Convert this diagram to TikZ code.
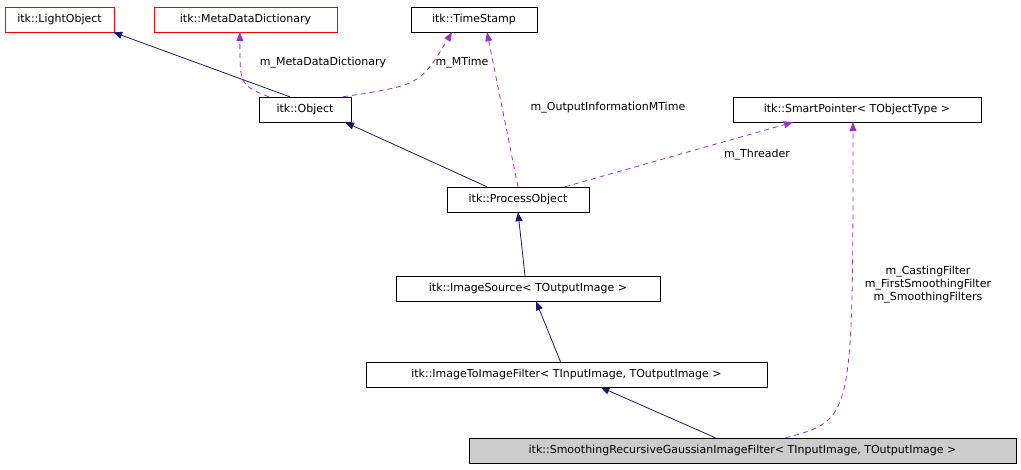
\documentclass[tikz,border=0pt]{standalone}
\usepackage{fontspec}
\setmainfont{DejaVu Sans}
\usetikzlibrary{arrows.meta,calc}

\begin{document}
\begin{tikzpicture}[x=1pt,y=-1pt,
		classnode/.style={draw=black,fill=white,inner sep=0pt,minimum height=25pt,font=\fontsize{11}{13}\selectfont},
		rednode/.style={classnode,draw=red},
		mainnode/.style={classnode,fill=black!20},
		inherit/.style={draw={rgb,255:red,25;green,25;blue,112},line width=0.8pt,-{Triangle[length=9pt,width=7pt]}},
		member/.style={draw={rgb,255:red,153;green,50;blue,204},line width=0.8pt,dash pattern=on 5pt off 4pt,-{Triangle[length=9pt,width=7pt]}},
		lbl/.style={font=\fontsize{11}{13}\selectfont,align=center,inner sep=1pt}]
		\useasboundingbox (0,0) rectangle (1021,469);

		\node[rednode,minimum width=109pt] 	(light)	at (59.5,19.5)	{itk::LightObject};
		\node[rednode,minimum width=183pt] 	(meta)	at (245.5,19.5)	{itk::MetaDataDictionary};
		\node[classnode,minimum width=126pt] 	(stamp)	at (474,19.5)	{itk::TimeStamp};
		\node[classnode,minimum width=92pt] 	(object)	at (305,109.5)	{itk::Object};
		\node[classnode,minimum width=248pt] 	(smart)	at (857,109.5)	{itk::SmartPointer< TObjectType >};
		\node[classnode,minimum width=142pt] 	(process)	at (518,199.5)	{itk::ProcessObject};
		\node[classnode,minimum width=264pt] 	(source)	at (528,288.5)	{itk::ImageSource< TOutputImage >};
		\node[classnode,minimum width=401pt] 	(filter)	at (566.5,374.5)	{itk::ImageToImageFilter< TInputImage, TOutputImage >};
		\node[mainnode,minimum width=547pt] 	(smooth)	at (742.5,450.5)	{itk::SmoothingRecursiveGaussianImageFilter< TInputImage, TOutputImage >};

		\draw[inherit] ($(object.north west)+(31,0)$) -- ($(light.south east)+(-1,0)$);
		\draw[member] ($(object.north west)+(10,0)$) .. controls (240,85) .. ($(meta.south west)+(86,0)$);
		\draw[member] ($(object.north)+(38,0)$) .. controls (420,85) .. ($(stamp.south)+(-22,0)$);
		\draw[inherit] ($(process.north)+(-31,0)$) -- ($(object.south)+(40,0)$);
		\draw[member] (process.north) -- ($(stamp.south)+(13,0)$);
		\draw[member] ($(process.north)+(47,0)$) -- ($(smart.south)+(-64,0)$);
		\draw[inherit] ($(source.north)+(-3,0)$) -- (process.south);
		\draw[inherit] ($(filter.north)+(-6,0)$) -- ($(source.south)+(8,0)$);
		\draw[inherit] ($(smooth.north)+(-27,0)$) -- ($(filter.south)+(34,0)$);
		\draw[member] ($(smooth.north)+(43,0)$) .. controls (853,420) .. ($(smart.south)+(-4,0)$);

		\node[lbl] (lmeta)	at (323,63)	{m\_MetaDataDictionary};
		\node[lbl] (ltime)	at (462,63)	{m\_MTime};
		\node[lbl] (lout)	at (608,108)	{m\_OutputInformationMTime};
		\node[lbl] (lthread)	at (757,155)	{m\_Threader};
		\node[lbl] (lfilters)	at (928,285)	{m\_CastingFilter\\m\_FirstSmoothingFilter\\m\_SmoothingFilters};
	\end{tikzpicture}
\end{document}
